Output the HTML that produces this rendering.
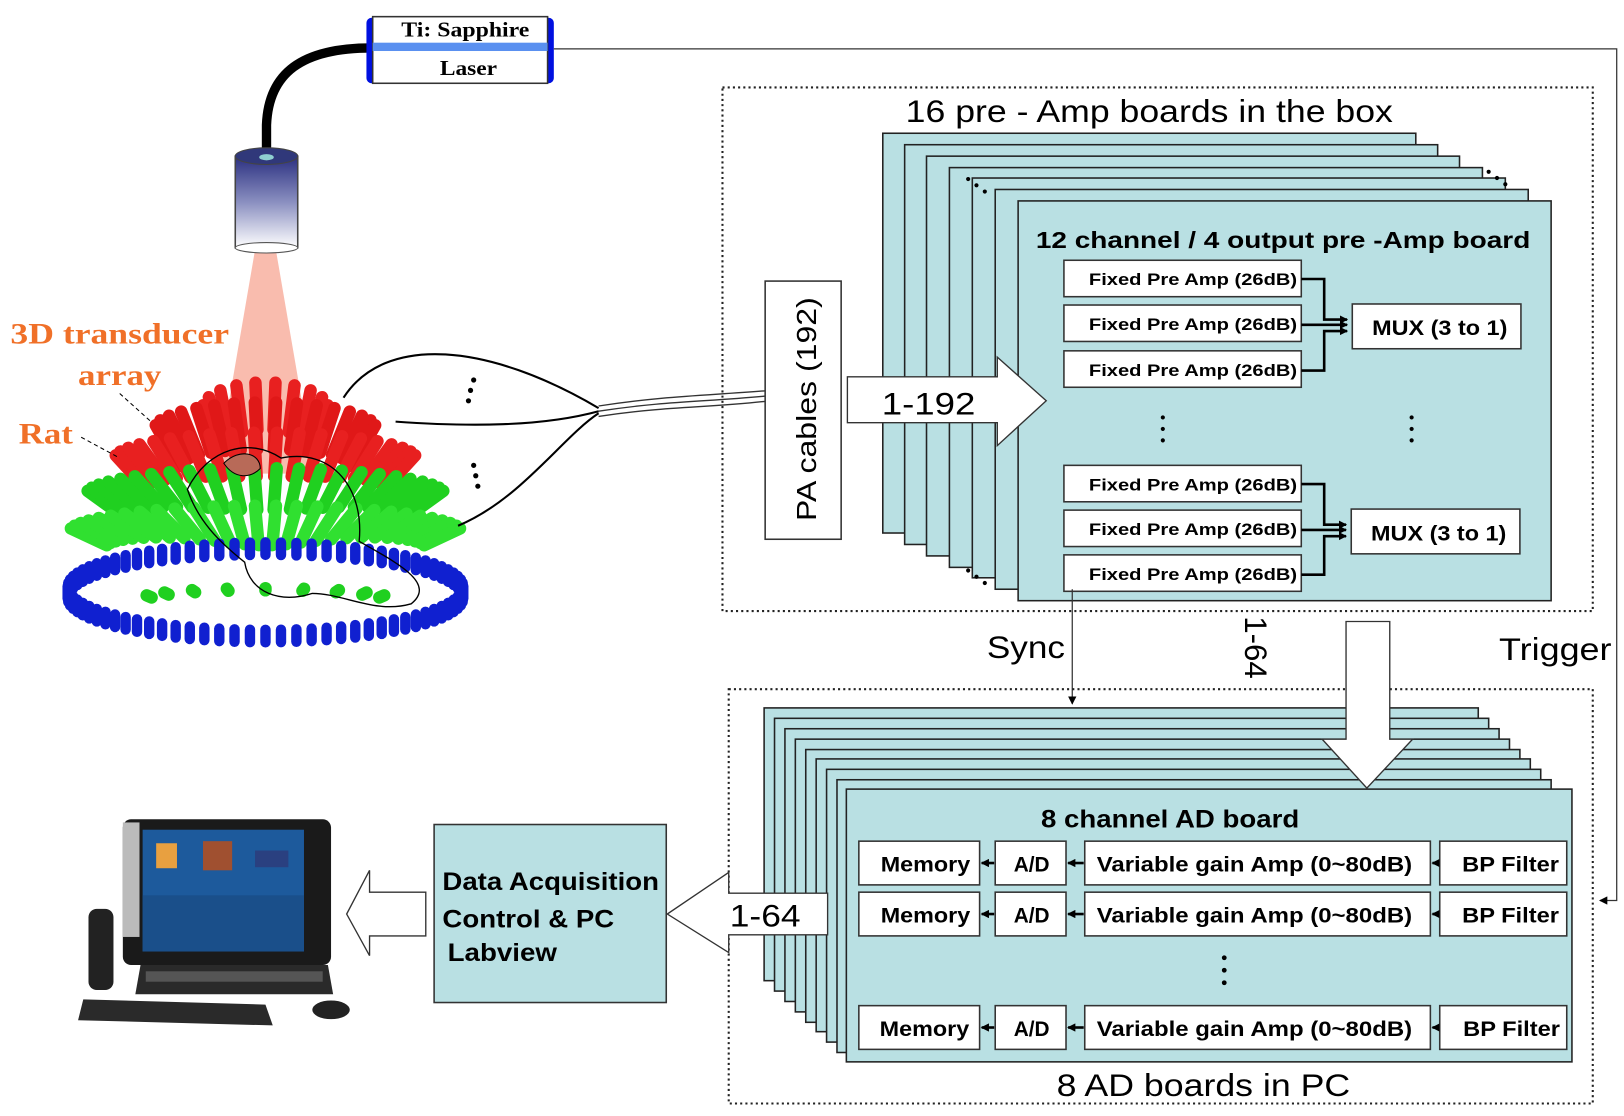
<!DOCTYPE html>
<html><head><meta charset="utf-8"><style>
html,body{margin:0;padding:0;background:#fff;width:1624px;height:1116px;overflow:hidden}
svg{display:block}
text{font-family:"Liberation Sans",sans-serif}
.b{font-weight:bold}
</style></head><body>
<svg width="1624" height="1116" viewBox="0 0 1560 1072" preserveAspectRatio="none" xmlns="http://www.w3.org/2000/svg">
<defs>
<linearGradient id="cyl" x1="0" y1="0" x2="0" y2="1"><stop offset="0" stop-color="#2a2f80"/><stop offset="0.5" stop-color="#8a8fc0"/><stop offset="1" stop-color="#ffffff"/></linearGradient>
<marker id="ah" markerWidth="8" markerHeight="8" refX="7" refY="4" orient="auto" markerUnits="userSpaceOnUse"><path d="M0,0 L8,4 L0,8 z" fill="#000"/></marker>
</defs>

<polygon points="245,240 265,240 302,455 208,455" fill="#f8b0a0" opacity="0.85"/>
<g id="dome"></g>

<path d="M357,46 C290,46 258,70 256,120 L256,152" stroke="#000" stroke-width="9" fill="none"/>
<rect x="226" y="150" width="60" height="88" fill="url(#cyl)" stroke="#444" stroke-width="1.5"/>
<ellipse cx="256" cy="150" rx="30" ry="8" fill="#30387a" stroke="#444"/>
<ellipse cx="256" cy="151" rx="7" ry="3" fill="#8fd0d0"/>
<ellipse cx="256" cy="238" rx="30" ry="5" fill="#fff" stroke="#555"/>

<rect x="352" y="17" width="12" height="63" rx="5" fill="#0010e0"/>
<rect x="520" y="17" width="12" height="63" rx="5" fill="#0010e0"/>
<rect x="358" y="16" width="168" height="64" fill="#fff" stroke="#333" stroke-width="1.5"/>
<rect x="358" y="41" width="168" height="8" fill="#5a90f0"/>
<text x="447" y="35" font-size="20" text-anchor="middle" font-weight="bold" style="font-family:'Liberation Serif',serif" textLength="123" lengthAdjust="spacingAndGlyphs">Ti: Sapphire</text>
<text x="450" y="72" font-size="20" text-anchor="middle" font-weight="bold" style="font-family:'Liberation Serif',serif" textLength="55" lengthAdjust="spacingAndGlyphs">Laser</text>

<polyline points="532,47 1553,47 1553,865 1537,865" fill="none" stroke="#333" stroke-width="1.2" marker-end="url(#ah)"/>

<text x="10" y="330" font-size="28" fill="#f07028" font-weight="bold" style="font-family:'Liberation Serif',serif" textLength="210" lengthAdjust="spacingAndGlyphs">3D transducer</text>
<text x="75" y="370" font-size="28" fill="#f07028" font-weight="bold" style="font-family:'Liberation Serif',serif" textLength="80" lengthAdjust="spacingAndGlyphs">array</text>
<text x="18" y="426" font-size="28" fill="#f07028" font-weight="bold" style="font-family:'Liberation Serif',serif" textLength="52" lengthAdjust="spacingAndGlyphs">Rat</text>
<path d="M115,378 L145,405" stroke="#000" stroke-dasharray="4,3"/>
<path d="M78,420 L115,440" stroke="#000" stroke-dasharray="4,3"/>

<path d="M330,382 C370,320 470,330 575,392" fill="none" stroke="#000" stroke-width="2"/>
<path d="M380,405 C450,410 520,410 575,395" fill="none" stroke="#000" stroke-width="2"/>
<path d="M440,505 C500,480 540,420 575,397" fill="none" stroke="#000" stroke-width="2"/>
<path d="M575,390 C640,380 680,380 740,375" fill="none" stroke="#333" stroke-width="1.3"/>
<path d="M575,395 C640,385 680,386 740,380" fill="none" stroke="#333" stroke-width="1.3"/>
<path d="M575,400 C640,390 680,392 740,385" fill="none" stroke="#333" stroke-width="1.3"/>
<g fill="#000"><circle cx="455" cy="365" r="2.5"/><circle cx="452" cy="375" r="2.5"/><circle cx="450" cy="385" r="2.5"/>
<circle cx="455" cy="447" r="2.5"/><circle cx="457" cy="457" r="2.5"/><circle cx="459" cy="467" r="2.5"/></g>

<rect x="694" y="84" width="836" height="503" fill="none" stroke="#222" stroke-width="2" stroke-dasharray="2,3"/>
<text x="1104" y="117" font-size="30" text-anchor="middle" textLength="468" lengthAdjust="spacingAndGlyphs">16 pre - Amp boards in the box</text>
<g fill="#b9e0e3" stroke="#222" stroke-width="1.5">
<rect x="848" y="128" width="512" height="384"/>
<rect x="869" y="139" width="512" height="384"/>
<rect x="890" y="150" width="512" height="384"/>
<rect x="912" y="161" width="512" height="384"/>
<rect x="934" y="171" width="512" height="384"/>
<rect x="956" y="182" width="512" height="384"/>
<rect x="978" y="193" width="512" height="384"/>
</g>
<g fill="#000"><circle cx="930" cy="172" r="2"/><circle cx="938" cy="178" r="2"/><circle cx="946" cy="184" r="2"/>
<circle cx="1430" cy="165" r="2"/><circle cx="1438" cy="171" r="2"/><circle cx="1446" cy="177" r="2"/>
<circle cx="930" cy="548" r="2"/><circle cx="938" cy="554" r="2"/><circle cx="946" cy="560" r="2"/></g>
<text x="995" y="238" font-size="22" font-weight="bold" textLength="475" lengthAdjust="spacingAndGlyphs">12 channel / 4 output pre  -Amp board</text>

<g fill="#fff" stroke="#333" stroke-width="1.5">
<rect x="1022" y="250" width="228" height="35"/>
<rect x="1022" y="293" width="228" height="35"/>
<rect x="1022" y="337" width="228" height="35"/>
<rect x="1022" y="447" width="228" height="35"/>
<rect x="1022" y="490" width="228" height="35"/>
<rect x="1022" y="533" width="228" height="35"/>
<rect x="1299" y="292" width="162" height="43"/>
<rect x="1298" y="489" width="162" height="43"/>
</g>
<g font-size="16" font-weight="bold" text-anchor="middle">
<text x="1146" y="274" textLength="200" lengthAdjust="spacingAndGlyphs">Fixed Pre Amp (26dB)</text>
<text x="1146" y="317" textLength="200" lengthAdjust="spacingAndGlyphs">Fixed Pre Amp (26dB)</text>
<text x="1146" y="361" textLength="200" lengthAdjust="spacingAndGlyphs">Fixed Pre Amp (26dB)</text>
<text x="1146" y="471" textLength="200" lengthAdjust="spacingAndGlyphs">Fixed Pre Amp (26dB)</text>
<text x="1146" y="514" textLength="200" lengthAdjust="spacingAndGlyphs">Fixed Pre Amp (26dB)</text>
<text x="1146" y="557" textLength="200" lengthAdjust="spacingAndGlyphs">Fixed Pre Amp (26dB)</text>
<text x="1383" y="322" font-size="20" textLength="130" lengthAdjust="spacingAndGlyphs">MUX (3 to 1)</text>
<text x="1382" y="519" font-size="20" textLength="130" lengthAdjust="spacingAndGlyphs">MUX (3 to 1)</text>
</g>
<g fill="none" stroke="#000" stroke-width="2.5">
<polyline points="1250,268 1272,268 1272,307 1294,307" marker-end="url(#ah)"/>
<polyline points="1250,312 1294,312" marker-end="url(#ah)"/>
<polyline points="1250,356 1272,356 1272,318 1294,318" marker-end="url(#ah)"/>
<polyline points="1250,465 1272,465 1272,504 1293,504" marker-end="url(#ah)"/>
<polyline points="1250,509 1293,509" marker-end="url(#ah)"/>
<polyline points="1250,552 1272,552 1272,515 1293,515" marker-end="url(#ah)"/>
</g>
<g fill="#000"><circle cx="1117" cy="401" r="2"/><circle cx="1117" cy="412" r="2"/><circle cx="1117" cy="423" r="2"/>
<circle cx="1356" cy="401" r="2"/><circle cx="1356" cy="412" r="2"/><circle cx="1356" cy="423" r="2"/></g>

<rect x="735" y="270" width="73" height="248" fill="#fff" stroke="#333" stroke-width="1.5"/>
<text transform="translate(784,393) rotate(-90)" font-size="27" text-anchor="middle" textLength="215" lengthAdjust="spacingAndGlyphs">PA cables (192)</text>
<polygon points="814,362 958,362 958,343 1005,385 958,428 958,406 814,406" fill="#fff" stroke="#333" stroke-width="1.3"/>
<text x="892" y="398" font-size="30" text-anchor="middle" textLength="90" lengthAdjust="spacingAndGlyphs">1-192</text>

<line x1="1030" y1="566" x2="1030" y2="676" stroke="#333" stroke-width="1.2" marker-end="url(#ah)"/>
<text x="948" y="632" font-size="30" textLength="75" lengthAdjust="spacingAndGlyphs">Sync</text>
<text transform="translate(1196,622) rotate(90)" font-size="30" text-anchor="middle">1-64</text>
<text x="1440" y="634" font-size="30" textLength="108" lengthAdjust="spacingAndGlyphs">Trigger</text>

<rect x="700" y="662" width="830" height="398" fill="none" stroke="#222" stroke-width="2" stroke-dasharray="2,3"/>
<g fill="#b9e0e3" stroke="#222" stroke-width="1.5">
<rect x="734" y="680" width="686" height="262"/>
<rect x="744" y="690" width="686" height="262"/>
<rect x="754" y="700" width="686" height="262"/>
<rect x="764" y="710" width="686" height="262"/>
<rect x="774" y="720" width="686" height="262"/>
<rect x="784" y="729" width="686" height="262"/>
<rect x="794" y="739" width="686" height="262"/>
<rect x="804" y="749" width="686" height="262"/>
<rect x="813" y="758" width="697" height="262"/>
</g>
<polygon points="1293,597 1335,597 1335,710 1357,710 1313,757 1270,710 1293,710" fill="#fff" stroke="#333" stroke-width="1.3"/>
<text x="1124" y="795" font-size="24" font-weight="bold" text-anchor="middle" textLength="248" lengthAdjust="spacingAndGlyphs">8 channel AD board</text>
<text x="1156" y="1053" font-size="30" text-anchor="middle" textLength="282" lengthAdjust="spacingAndGlyphs">8 AD boards in PC</text>
<g fill="#000"><circle cx="1176" cy="920" r="2.3"/><circle cx="1176" cy="932" r="2.3"/><circle cx="1176" cy="944" r="2.3"/></g>

<g fill="#fff" stroke="#333" stroke-width="1.5">
<rect x="825" y="808" width="116" height="42"/><rect x="956" y="808" width="68" height="42"/><rect x="1042" y="808" width="332" height="42"/><rect x="1383" y="808" width="122" height="42"/>
<rect x="825" y="857" width="116" height="42"/><rect x="956" y="857" width="68" height="42"/><rect x="1042" y="857" width="332" height="42"/><rect x="1383" y="857" width="122" height="42"/>
<rect x="825" y="966" width="116" height="42"/><rect x="956" y="966" width="68" height="42"/><rect x="1042" y="966" width="332" height="42"/><rect x="1383" y="966" width="122" height="42"/>
</g>
<g font-size="20" font-weight="bold" text-anchor="middle">
<text x="889" y="837" textLength="86" lengthAdjust="spacingAndGlyphs">Memory</text><text x="991" y="837">A/D</text><text x="1205" y="837" textLength="303" lengthAdjust="spacingAndGlyphs">Variable gain Amp (0~80dB)</text><text x="1451" y="837" textLength="93" lengthAdjust="spacingAndGlyphs">BP Filter</text>
<text x="889" y="886" textLength="86" lengthAdjust="spacingAndGlyphs">Memory</text><text x="991" y="886">A/D</text><text x="1205" y="886" textLength="303" lengthAdjust="spacingAndGlyphs">Variable gain Amp (0~80dB)</text><text x="1451" y="886" textLength="93" lengthAdjust="spacingAndGlyphs">BP Filter</text>
<text x="888" y="995" textLength="86" lengthAdjust="spacingAndGlyphs">Memory</text><text x="991" y="995">A/D</text><text x="1205" y="995" textLength="303" lengthAdjust="spacingAndGlyphs">Variable gain Amp (0~80dB)</text><text x="1452" y="995" textLength="93" lengthAdjust="spacingAndGlyphs">BP Filter</text>
</g>
<g stroke="#000" stroke-width="2.5" fill="none">
<line x1="955" y1="829" x2="943" y2="829" marker-end="url(#ah)"/><line x1="1041" y1="829" x2="1026" y2="829" marker-end="url(#ah)"/><line x1="1382" y1="829" x2="1376" y2="829" marker-end="url(#ah)"/>
<line x1="955" y1="878" x2="943" y2="878" marker-end="url(#ah)"/><line x1="1041" y1="878" x2="1026" y2="878" marker-end="url(#ah)"/><line x1="1382" y1="878" x2="1376" y2="878" marker-end="url(#ah)"/>
<line x1="955" y1="987" x2="943" y2="987" marker-end="url(#ah)"/><line x1="1041" y1="987" x2="1026" y2="987" marker-end="url(#ah)"/><line x1="1382" y1="987" x2="1376" y2="987" marker-end="url(#ah)"/>
</g>

<polygon points="795,858 795,898 700,898 700,915 641,878 700,838 700,858" fill="#fff" stroke="#333" stroke-width="1.3"/>
<text x="735" y="890" font-size="30" text-anchor="middle" textLength="68" lengthAdjust="spacingAndGlyphs">1-64</text>

<rect x="417" y="792" width="223" height="171" fill="#b9e0e3" stroke="#333" stroke-width="1.5"/>
<g font-size="24" font-weight="bold"><text x="425" y="855" textLength="208" lengthAdjust="spacingAndGlyphs">Data Acquisition</text><text x="425" y="891" textLength="165" lengthAdjust="spacingAndGlyphs">Control &amp; PC</text><text x="430" y="923" textLength="105" lengthAdjust="spacingAndGlyphs">Labview</text></g>

<polygon points="409,857 409,899 355,899 355,918 333,878 355,836 355,857" fill="#fff" stroke="#333" stroke-width="1.3"/>

<rect x="118" y="787" width="200" height="140" rx="8" fill="#1a1a1a"/>
<rect x="118" y="790" width="16" height="110" fill="#bbb"/>
<rect x="137" y="797" width="155" height="117" fill="#1d5a9c"/>
<rect x="137" y="860" width="155" height="54" fill="#1a4f8a"/>
<rect x="150" y="810" width="20" height="24" fill="#e8a040"/><rect x="195" y="808" width="28" height="28" fill="#a05030"/><rect x="245" y="817" width="32" height="16" fill="#2a4080"/>
<path d="M135,927 L315,927 L320,955 L130,955 z" fill="#2a2a2a"/>
<rect x="140" y="933" width="170" height="10" fill="#555"/>
<rect x="85" y="873" width="24" height="78" rx="8" fill="#222"/>
<path d="M80,960 L255,965 L262,985 L75,980 z" fill="#2a2a2a"/>
<ellipse cx="318" cy="970" rx="18" ry="9" fill="#222"/>
</svg>
<script>
(function(){
var g=document.getElementById('dome'),out='';
var cx=255,cy=555;
function cylH(x1,y1,x2,y2,c,w){out+='<line x1="'+x1+'" y1="'+y1+'" x2="'+x2+'" y2="'+y2+'" stroke="'+c+'" stroke-width="'+w+'" stroke-linecap="round"/>';}
var rows=[{e:72,c:'#e82020',n:10,L:45},{e:57,c:'#e01818',n:16,L:45},{e:42,c:'#e82020',n:20,L:42},{e:28,c:'#20d020',n:24,L:40},{e:15,c:'#30e030',n:28,L:38}];
rows.forEach(function(rw){
 var e=rw.e*Math.PI/180;
 for(var i=0;i<rw.n;i++){
  var a=Math.PI*(0.04+0.92*i/(rw.n-1));
  var R=195*Math.cos(e), h=180*Math.sin(e);
  var x=cx-R*Math.cos(a), y=cy-25*Math.sin(a)-h*0.95;
  var dx=(x-cx),dy=(y-cy-40);var d=Math.sqrt(dx*dx+dy*dy);
  var x2=x-dx/d*rw.L, y2=y-dy/d*rw.L;
  cylH(x,y,x2,y2,rw.c,12);
 }
});
for(var i=0;i<9;i++){var a=Math.PI*(0.1+0.8*i/8);cylH(cx-120*Math.cos(a),cy+20-10*Math.sin(a),cx-115*Math.cos(a),cy+22-10*Math.sin(a),'#20d020',12);}
for(var i=0;i<80;i++){var a=2*Math.PI*i/80;var x=cx+190*Math.cos(a),y=cy+8+42*Math.sin(a);cylH(x,y,x,y+12,'#1020d0',10);}
out+='<path d="M180,470 C200,430 240,420 270,440 C320,430 350,470 345,520 C380,540 420,560 395,580 C360,590 330,570 300,570 C270,580 240,570 235,540 C210,520 190,500 180,470 z" fill="none" stroke="#000" stroke-width="1.3"/>';
out+='<path d="M215,445 C230,430 250,435 250,450 C240,460 225,460 215,445 z" fill="#b86a58" stroke="#000"/>';
g.innerHTML=out;
})();
</script>
</body></html>
